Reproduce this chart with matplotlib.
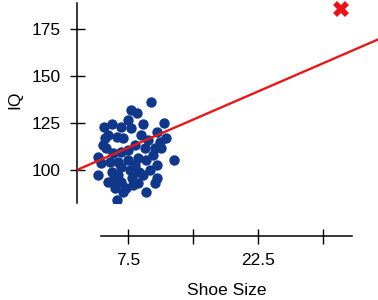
import matplotlib
matplotlib.use("Agg")
import matplotlib.pyplot as plt

plt.rcParams['font.family'] = ['Liberation Sans', 'DejaVu Sans']

# shoe size / IQ sample
shoe = [10.1, 7.8, 8.5, 4.7, 5.6, 6.7, 7.5, 7.8, 9.2, 11.7,
        10.8, 11.9, 9.0, 4.8, 4.6, 6.2, 6.9, 5.0, 4.0, 5.8,
        6.7, 7.5, 8.3, 9.4, 10.6, 11.3, 10.4, 12.8, 4.4, 5.4,
        6.3, 7.5, 8.7, 9.6, 10.8, 4.0, 5.6, 6.7, 7.7, 8.8,
        10.0, 10.8, 5.8, 6.7, 7.9, 8.7, 6.9, 9.6, 6.2, 8.1,
        5.2, 9.8, 11.2, 8.3, 5.2, 6.3, 9.2, 10.6, 7.3, 6.0]
iq = [136.0, 131.9, 130.1, 123.1, 124.3, 123.1, 126.6, 122.2, 124.3, 124.8,
      120.4, 117.2, 118.6, 116.8, 113.3, 117.7, 116.8, 111.5, 107.1, 108.9,
      109.8, 110.6, 113.3, 111.5, 111.9, 111.5, 108.0, 105.3, 103.5, 104.4,
      104.4, 105.3, 106.2, 105.3, 102.7, 97.3, 99.1, 101.8, 100.0, 99.1,
      100.0, 95.6, 94.7, 93.8, 95.6, 92.9, 88.5, 88.1, 84.0, 92.0,
      118.6, 116.0, 115.1, 102.7, 93.8, 97.3, 97.3, 92.9, 90.2, 90.2]

# the odd one out and the fitted line
outlier_shoe = 32.0
outlier_iq = 185.6
intercept = 96.8
slope = 2.0

xticks = [7.5, 15, 22.5, 30]
xticklabels = ['7.5', '', '22.5', '']
yticks = [100, 125, 150, 175]

fig = plt.figure(figsize=(3.78, 3.0), dpi=100)
ax = fig.add_axes([77/378, 97/300, 301/378, 203/300])

ax.scatter(shoe, iq, s=56, color='#10378a', linewidths=0, zorder=2)
ax.axline((0, intercept), slope=slope, color='#e31a1c', lw=1.7, zorder=3)
ax.plot(outlier_shoe, outlier_iq, marker='X', ms=11.5, color='#e8141c',
        mew=0, clip_on=False, zorder=4)

ax.set_xlim(1.615, 36.31)
ax.set_ylim(82.45, 190.4)

for side in ['top', 'right']:
    ax.spines[side].set_visible(False)
ax.spines['left'].set_bounds(82.5, 188.8)
ax.spines['bottom'].set_position(('outward', 23.8))
ax.spines['bottom'].set_bounds(4.4, 33.3)
for side in ['left', 'bottom']:
    ax.spines[side].set_linewidth(1.1)

ax.set_xticks(xticks)
ax.set_xticklabels(xticklabels)
ax.set_yticks(yticks)
ax.tick_params(direction='inout', length=10.8, width=1.0, labelsize=12.5,
               pad=6.5)

ax.set_xlabel('Shoe Size', fontsize=12.5)
ax.xaxis.label.set_va('center')
ax.xaxis.set_label_coords(0.498, -0.4286)
ax.set_ylabel('IQ', fontsize=12.5)
ax.yaxis.label.set_va('center')
ax.yaxis.set_label_coords(-0.206, 0.507)

fig.savefig('out.png', dpi=100)
